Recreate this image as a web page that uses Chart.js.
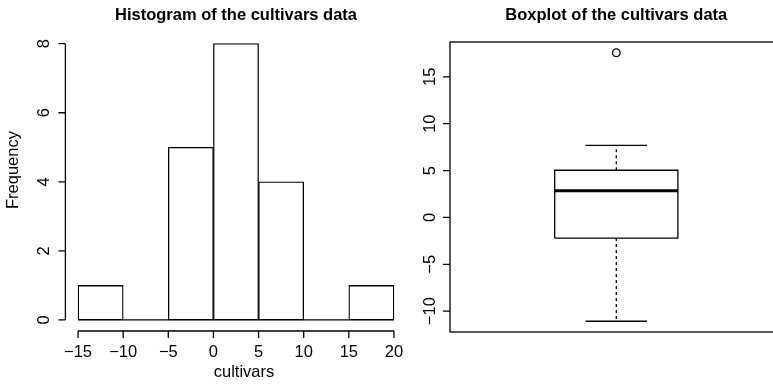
<!DOCTYPE html>
<html lang="en">
<head>
    <meta charset="UTF-8">
    <title>Cultivars</title>
    <script src="https://cdn.jsdelivr.net/npm/chart.js"></script>
    <style>
        body {
            margin: 0;
            padding: 0;
            background-color: #ffffff;
            overflow: hidden;
            width: 773px;
            height: 389px;
            position: relative;
        }
        canvas {
            position: absolute;
            top: 0;
            left: 0;
        }
    </style>
</head>
<body>
    <canvas id="histChart" width="773" height="389"></canvas>
    <canvas id="boxChart" width="800" height="389"></canvas>

    <script>
        // histogram bins (edges every 5) and counts
        const breaks = [-15, -10, -5, 0, 5, 10, 15, 20];
        const counts = [1, 0, 5, 8, 4, 0, 1];
        const histXTicks = [-15, -10, -5, 0, 5, 10, 15, 20];
        const histXLabels = ['\u221215', '\u221210', '\u22125', '0', '5', '10', '15', '20'];
        const histYTicks = [0, 2, 4, 6, 8];
        const histYLabels = ['0', '2', '4', '6', '8'];

        // five-number summary and outliers
        const whiskerLow = -11.08;
        const quartile1 = -2.2;
        const median = 2.84;
        const quartile3 = 5.03;
        const whiskerHigh = 7.68;
        const outliers = [17.57];
        const boxYTicks = [-10, -5, 0, 5, 10, 15];
        const boxYLabels = ['\u221210', '\u22125', '0', '5', '10', '15'];

        const FONT = '"Liberation Sans", Arial, Helvetica, sans-serif';
        const FS = '16.5px ';
        const TICK = 7;
        const LW = 1.3;

        // R-like 4% range expansion
        function expand(lo, hi) {
            const d = (hi - lo) * 0.04;
            return [lo - d, hi + d];
        }

        function rotatedText(ctx, text, x, y) {
            ctx.save();
            ctx.translate(x, y);
            ctx.rotate(-Math.PI / 2);
            ctx.textAlign = 'center';
            ctx.textBaseline = 'alphabetic';
            ctx.fillText(text, 0, 0);
            ctx.restore();
        }

        const histAxes = {
            id: 'histAxes',
            afterDraw(chart) {
                const ctx = chart.ctx;
                const xs = chart.scales.x, ys = chart.scales.y;
                const area = chart.chartArea;
                ctx.save();
                ctx.strokeStyle = '#000';
                ctx.fillStyle = '#000';
                ctx.lineWidth = LW;

                // bottom edge of the bars (covers empty bins too)
                const y0 = ys.getPixelForValue(0);
                ctx.beginPath();
                ctx.moveTo(xs.getPixelForValue(breaks[0]), y0);
                ctx.lineTo(xs.getPixelForValue(breaks[breaks.length - 1]), y0);
                ctx.stroke();

                // x axis
                const ax = area.bottom;
                ctx.beginPath();
                ctx.moveTo(xs.getPixelForValue(histXTicks[0]), ax);
                ctx.lineTo(xs.getPixelForValue(histXTicks[histXTicks.length - 1]), ax);
                histXTicks.forEach(v => {
                    const px = xs.getPixelForValue(v);
                    ctx.moveTo(px, ax);
                    ctx.lineTo(px, ax + TICK);
                });
                ctx.stroke();
                ctx.font = FS + FONT;
                ctx.textAlign = 'center';
                ctx.textBaseline = 'alphabetic';
                histXTicks.forEach((v, i) => {
                    ctx.fillText(histXLabels[i], xs.getPixelForValue(v), ax + 26);
                });
                ctx.fillText('cultivars', 244, 377);

                // y axis
                const ay = area.left;
                ctx.beginPath();
                ctx.moveTo(ay, ys.getPixelForValue(histYTicks[0]));
                ctx.lineTo(ay, ys.getPixelForValue(histYTicks[histYTicks.length - 1]));
                histYTicks.forEach(v => {
                    const py = ys.getPixelForValue(v);
                    ctx.moveTo(ay, py);
                    ctx.lineTo(ay - TICK, py);
                });
                ctx.stroke();
                histYTicks.forEach((v, i) => {
                    rotatedText(ctx, histYLabels[i], ay - 16, ys.getPixelForValue(v));
                });
                rotatedText(ctx, 'Frequency', 17.5, 170);

                ctx.font = 'bold ' + FS + FONT;
                ctx.textAlign = 'center';
                ctx.fillText('Histogram of the cultivars data', (area.left + area.right) / 2, 20);
                ctx.restore();
            }
        };

        const boxAxes = {
            id: 'boxAxes',
            afterDraw(chart) {
                const ctx = chart.ctx;
                const ys = chart.scales.y;
                const area = chart.chartArea;
                ctx.save();
                ctx.strokeStyle = '#000';
                ctx.fillStyle = '#000';
                ctx.lineWidth = LW;

                // frame around the plot region
                ctx.strokeRect(area.left, area.top, area.right - area.left, area.bottom - area.top);

                const ay = area.left;
                ctx.beginPath();
                boxYTicks.forEach(v => {
                    const py = ys.getPixelForValue(v);
                    ctx.moveTo(ay, py);
                    ctx.lineTo(ay - TICK, py);
                });
                ctx.stroke();
                ctx.font = FS + FONT;
                boxYTicks.forEach((v, i) => {
                    rotatedText(ctx, boxYLabels[i], ay - 15.5, ys.getPixelForValue(v));
                });

                ctx.font = 'bold ' + FS + FONT;
                ctx.textAlign = 'center';
                ctx.textBaseline = 'alphabetic';
                ctx.fillText('Boxplot of the cultivars data', 616.3, 20);
                ctx.restore();
            }
        };

        const baseOptions = {
            responsive: false,
            animation: false,
            events: [],
            plugins: {
                legend: { display: false },
                tooltip: { enabled: false },
                title: { display: false }
            }
        };

        // ---- histogram ----
        const histX = expand(breaks[0], breaks[breaks.length - 1]);
        const histY = expand(0, Math.max(...counts));
        const mids = counts.map((c, i) => ({ x: (breaks[i] + breaks[i + 1]) / 2, y: c }));

        new Chart(document.getElementById('histChart'), {
            type: 'bar',
            data: {
                datasets: [{
                    data: mids,
                    backgroundColor: '#ffffff',
                    borderColor: '#000000',
                    borderWidth: LW,
                    borderSkipped: false,
                    barPercentage: 1,
                    categoryPercentage: 1
                }]
            },
            options: Object.assign({}, baseOptions, {
                layout: { padding: { left: 65.4, right: 773 - 406.6, top: 32.6, bottom: 389 - 331 } },
                scales: {
                    x: { type: 'linear', min: histX[0], max: histX[1], offset: false, display: false },
                    y: { type: 'linear', min: histY[0], max: histY[1], display: false }
                }
            }),
            plugins: [histAxes]
        });

        // ---- boxplot ----
        const lo = Math.min(whiskerLow, ...outliers);
        const hi = Math.max(whiskerHigh, ...outliers);
        const boxY = expand(lo, hi);
        const centre = 1, halfBox = 0.2, halfCap = 0.1;

        const seg = (pts, extra) => Object.assign({
            type: 'scatter',
            data: pts,
            showLine: true,
            borderColor: '#000',
            borderWidth: LW,
            pointRadius: 0,
            fill: false
        }, extra || {});

        new Chart(document.getElementById('boxChart'), {
            type: 'scatter',
            data: {
                datasets: [
                    // box
                    seg([
                        { x: centre - halfBox, y: quartile1 }, { x: centre + halfBox, y: quartile1 },
                        { x: centre + halfBox, y: quartile3 }, { x: centre - halfBox, y: quartile3 },
                        { x: centre - halfBox, y: quartile1 }
                    ]),
                    // median
                    seg([{ x: centre - halfBox, y: median }, { x: centre + halfBox, y: median }], { borderWidth: 3 }),
                    // whiskers
                    seg([{ x: centre, y: quartile3 }, { x: centre, y: whiskerHigh }], { borderDash: [3, 3] }),
                    seg([{ x: centre, y: quartile1 }, { x: centre, y: whiskerLow }], { borderDash: [3, 3] }),
                    // staples
                    seg([{ x: centre - halfCap, y: whiskerHigh }, { x: centre + halfCap, y: whiskerHigh }]),
                    seg([{ x: centre - halfCap, y: whiskerLow }, { x: centre + halfCap, y: whiskerLow }]),
                    // outliers
                    {
                        type: 'scatter',
                        data: outliers.map(v => ({ x: centre, y: v })),
                        pointStyle: 'circle',
                        pointRadius: 3.8,
                        borderColor: '#000',
                        borderWidth: LW,
                        backgroundColor: 'rgba(0,0,0,0)'
                    }
                ]
            },
            options: Object.assign({}, baseOptions, {
                layout: { padding: { left: 450, right: 800 - 782.6, top: 42, bottom: 389 - 332 } },
                scales: {
                    x: { type: 'linear', min: 0.46, max: 1.54, display: false },
                    y: { type: 'linear', min: boxY[0], max: boxY[1], display: false }
                }
            }),
            plugins: [boxAxes]
        });
    </script>
</body>
</html>
